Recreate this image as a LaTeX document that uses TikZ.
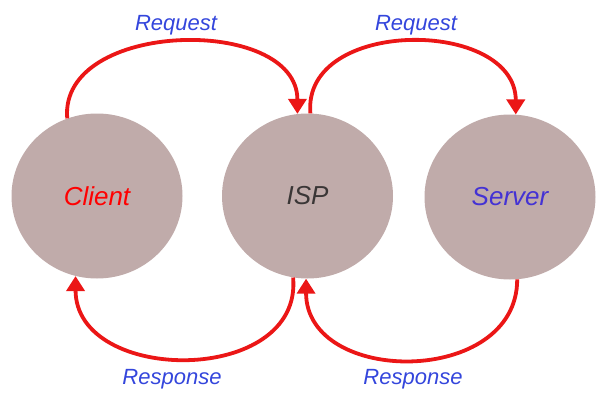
\documentclass[tikz,border=0pt]{standalone}
\usepackage{fontspec}
\setmainfont{Liberation Sans}
\usetikzlibrary{arrows.meta, shapes.geometric}
\definecolor{hostfill}{RGB}{192,171,170}
\definecolor{flowred}{RGB}{235,22,22}
\definecolor{msgblue}{RGB}{52,70,220}
\definecolor{ispgray}{RGB}{58,54,54}
\definecolor{serverblue}{RGB}{68,50,212}

\begin{document}
\begin{tikzpicture}[x=1pt, y=1pt,
  host/.style={shape=ellipse, fill=hostfill, minimum width=171pt, minimum height=165pt, font=\fontsize{26}{30}\selectfont\itshape},
  flow/.style={-{Triangle[width=18pt, length=15pt]}, line width=3.8pt, draw=flowred},
  msg/.style={anchor=base, text=msgblue, font=\fontsize{22}{26}\selectfont\itshape}]
\useasboundingbox (0,0) rectangle (600,400);
\node[host, text=red] (client) at (97,204) {Client};
\node[host, text=ispgray] (isp) at (307.5,204) {ISP};
\node[host, text=serverblue] (server) at (510,203) {Server};
\node[msg] (req1) at (176,369) {Request};
\node[msg] (req2) at (416,369) {Request};
\node[msg] (resp1) at (172,16) {Response};
\node[msg] (resp2) at (413,16) {Response};
\path (client.111) edge [flow, out=95, in=90, looseness=1.1] (isp.97);
\path (isp.88) edge [flow, out=95, in=90, looseness=1.2] (server.86);
\path (isp.260) edge [flow, out=-85, in=-90, looseness=1.28] (client.255);
\path (server.275) edge [flow, out=-90, in=-90, looseness=1.3] (isp.269);
\end{tikzpicture}
\end{document}
